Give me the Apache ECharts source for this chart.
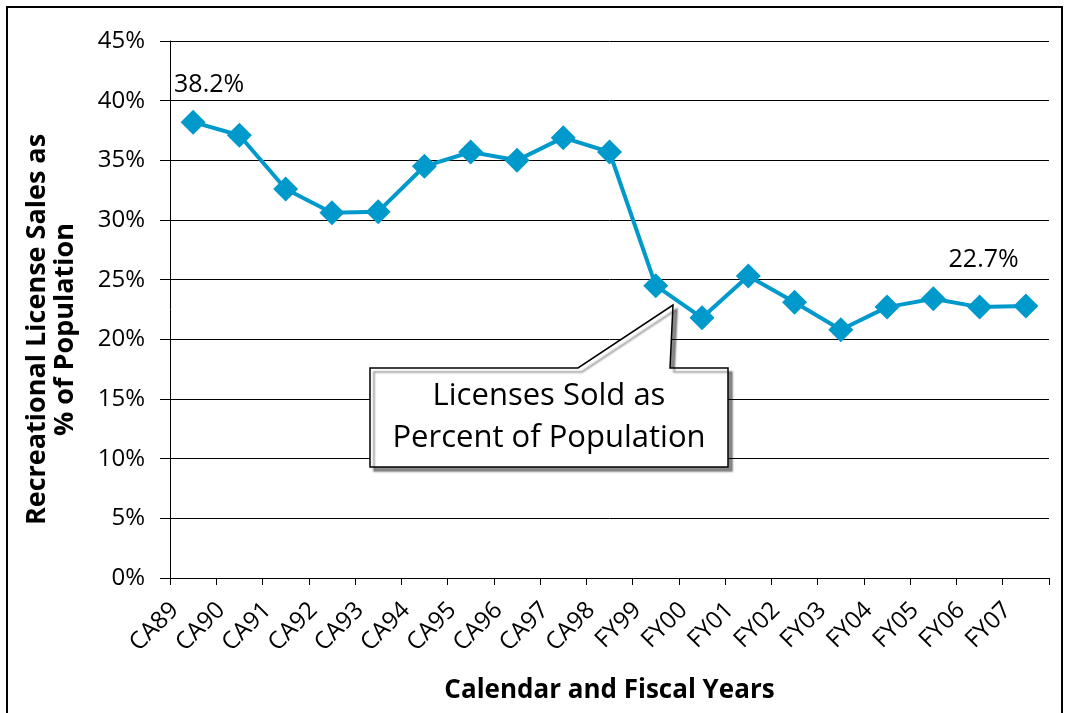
<!DOCTYPE html>
<html>
<head>
<meta charset="utf-8">
<script src="https://cdn.jsdelivr.net/npm/echarts@6/dist/echarts.min.js"></script>
<style>
html,body{margin:0;padding:0;background:#fff;}
#chart{width:1068px;height:713px;}
</style>
</head>
<body>
<div id="chart"></div>
<script>
const categories = ['CA89','CA90','CA91','CA92','CA93','CA94','CA95','CA96','CA97','CA98','FY99','FY00','FY01','FY02','FY03','FY04','FY05','FY06','FY07'];
const licensePct = [38.2,37.1,32.6,30.6,30.7,34.5,35.7,35.0,36.9,35.7,24.5,21.8,25.3,23.1,20.8,22.7,23.4,22.7,22.8];
const labeledPoints = {0:'38.2%', 17:'22.7%'};
const yTicks = {min:0, max:45, interval:5};

const FONT = 'Open Sans';
const chart = echarts.init(document.getElementById('chart'));

const seriesData = licensePct.map((v,i)=>{
  const d = {value:v};
  if (labeledPoints[i] !== undefined) {
    d.label = {
      show:true, formatter:labeledPoints[i], position:'top',
      distance: i===0 ? 12 : 22, offset: i===0 ? [16,0] : [4,0],
      fontFamily:FONT, fontSize:25, color:'#000'
    };
  }
  return d;
});

chart.setOption({
  animation:false,
  backgroundColor:'#fff',
  grid:{left:170,right:19,top:41,bottom:135,containLabel:false,outerBoundsMode:'none'},
  xAxis:{
    type:'category', data:categories, boundaryGap:true,
    name:'Calendar and Fiscal Years', nameLocation:'middle', nameGap:100,
    nameTextStyle:{fontFamily:FONT,fontSize:26,fontWeight:'bold',color:'#000'},
    axisLine:{lineStyle:{color:'#000',width:1}},
    axisTick:{show:true,length:7,lineStyle:{color:'#000'}},
    axisLabel:{rotate:45,margin:10,fontFamily:FONT,fontSize:24,color:'#000',interval:0,padding:[0,26,0,0]}
  },
  yAxis:{
    type:'value', min:yTicks.min, max:yTicks.max, interval:yTicks.interval,
    name:'Recreational License Sales as\n% of Population', nameLocation:'middle', nameGap:91,
    nameTextStyle:{fontFamily:FONT,fontSize:27,fontWeight:'bold',color:'#000',lineHeight:28,padding:[0,40,0,0]},
    axisLine:{show:true,lineStyle:{color:'#000',width:1}},
    axisTick:{show:true,length:10,lineStyle:{color:'#000'}},
    axisLabel:{formatter:'{value}%',margin:25,fontFamily:FONT,fontSize:24,color:'#000'},
    splitLine:{show:true,lineStyle:{color:'#000',width:1}}
  },
  series:[{
    type:'line', data:seriesData,
    symbol:'diamond', symbolSize:25,
    lineStyle:{color:'#0099CC',width:4},
    itemStyle:{color:'#0099CC'},
    z:5
  }],
  graphic:[
    {type:'rect',shape:{x:7,y:7,width:1055,height:720},style:{fill:'none',stroke:'#000',lineWidth:2},z:0,silent:true},
    {type:'polygon',z:10,
     shape:{points:[[370,368],[578,368],[673,305],[670,368],[728,368],[728,467],[370,467]]},
     style:{fill:'#fff',stroke:'#000',lineWidth:1.5,shadowColor:'rgba(0,0,0,0.45)',shadowOffsetX:4,shadowOffsetY:4,shadowBlur:2}},
    {type:'text',z:11,x:549,y:417,
     style:{text:'Licenses Sold as\nPercent of Population',fontFamily:FONT,fontSize:31,lineHeight:42,fill:'#000',align:'center',verticalAlign:'middle'}}
  ]
});
</script>
</body>
</html>
